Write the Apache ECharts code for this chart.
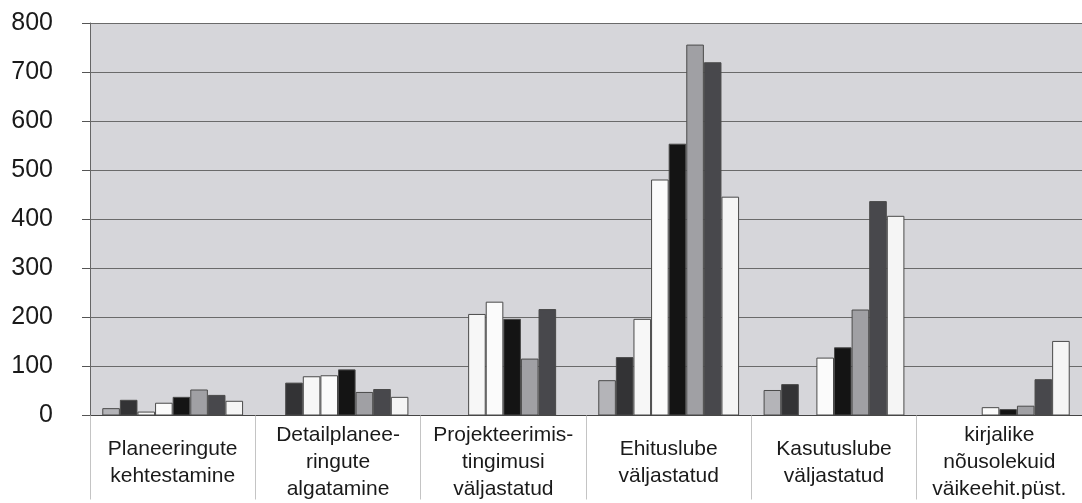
<!DOCTYPE html>
<html>
<head>
<meta charset="utf-8">
<script src="https://cdn.jsdelivr.net/npm/echarts@6/dist/echarts.min.js"></script>
<style>
html,body{margin:0;padding:0;background:#fff;}
#chart{width:1082px;height:503px;}
</style>
</head>
<body>
<div id="chart"></div>
<script>
const categories = [
  'Planeeringute\nkehtestamine',
  'Detailplanee-\nringute\nalgatamine',
  'Projekteerimis-\ntingimusi\nväljastatud',
  'Ehituslube\nväljastatud',
  'Kasutuslube\nväljastatud',
  'kirjalike\nnõusolekuid\nväikeehit.püst.'
];
const yTicks = [0, 100, 200, 300, 400, 500, 600, 700, 800];
const s1 = [15, '-', '-', 72, 52, '-'];
const s2 = [32, 67, '-', 119, 64, '-'];
const s3 = [8, 80, 207, 197, '-', '-'];
const s4 = [26, 82, 232, 481, 118, 17];
const s5 = [38, 94, 197, 554, 139, 13];
const s6 = [53, 48, 116, 756, 216, 20];
const s7 = [42, 54, 217, 720, 437, 74];
const s8 = [30, 38, '-', 446, 407, 152];

const seriesData = [s1, s2, s3, s4, s5, s6, s7, s8];
const seriesNames = ['Seeria 1','Seeria 2','Seeria 3','Seeria 4','Seeria 5','Seeria 6','Seeria 7','Seeria 8'];
const colors = ['#b4b4b8', '#333335', '#f7f7f7', '#fbfbfb', '#141414', '#a0a0a4', '#48484c', '#f5f5f5'];

const chart = echarts.init(document.getElementById('chart'), null, {renderer: 'canvas'});
chart.setOption({
  animation: false,
  textStyle: {fontFamily: 'Liberation Sans, Arial, sans-serif'},
  grid: {left: 90, top: 23, width: 1002, height: 396, show: true, backgroundColor: '#d6d6da', borderWidth: 0},
  xAxis: {
    type: 'category',
    data: categories,
    axisLine: {show: true, lineStyle: {color: '#444', width: 1}},
    axisTick: {show: true, length: 84, interval: 0, lineStyle: {color: '#c4c4c4', width: 1}},
    axisLabel: {
      interval: 0, fontSize: 21, lineHeight: 27, color: '#1a1a1a',
      verticalAlign: 'middle', margin: 47, align: 'center'
    },
    splitLine: {show: false}
  },
  yAxis: {
    type: 'value',
    min: yTicks[0], max: yTicks[yTicks.length - 1], interval: 100,
    axisLine: {show: true, lineStyle: {color: '#666', width: 1}},
    axisTick: {show: true, length: 8, lineStyle: {color: '#555'}},
    axisLabel: {fontSize: 25, color: '#1a1a1a', margin: 37},
    splitLine: {show: true, lineStyle: {color: '#6a6a6a', width: 1}}
  },
  series: seriesData.map((d, i) => ({
    name: seriesNames[i],
    type: 'bar',
    data: d,
    barWidth: 17.6,
    barGap: '0%',
    itemStyle: {color: colors[i], borderColor: '#4a4a4a', borderWidth: 1}
  }))
});
</script>
</body>
</html>
